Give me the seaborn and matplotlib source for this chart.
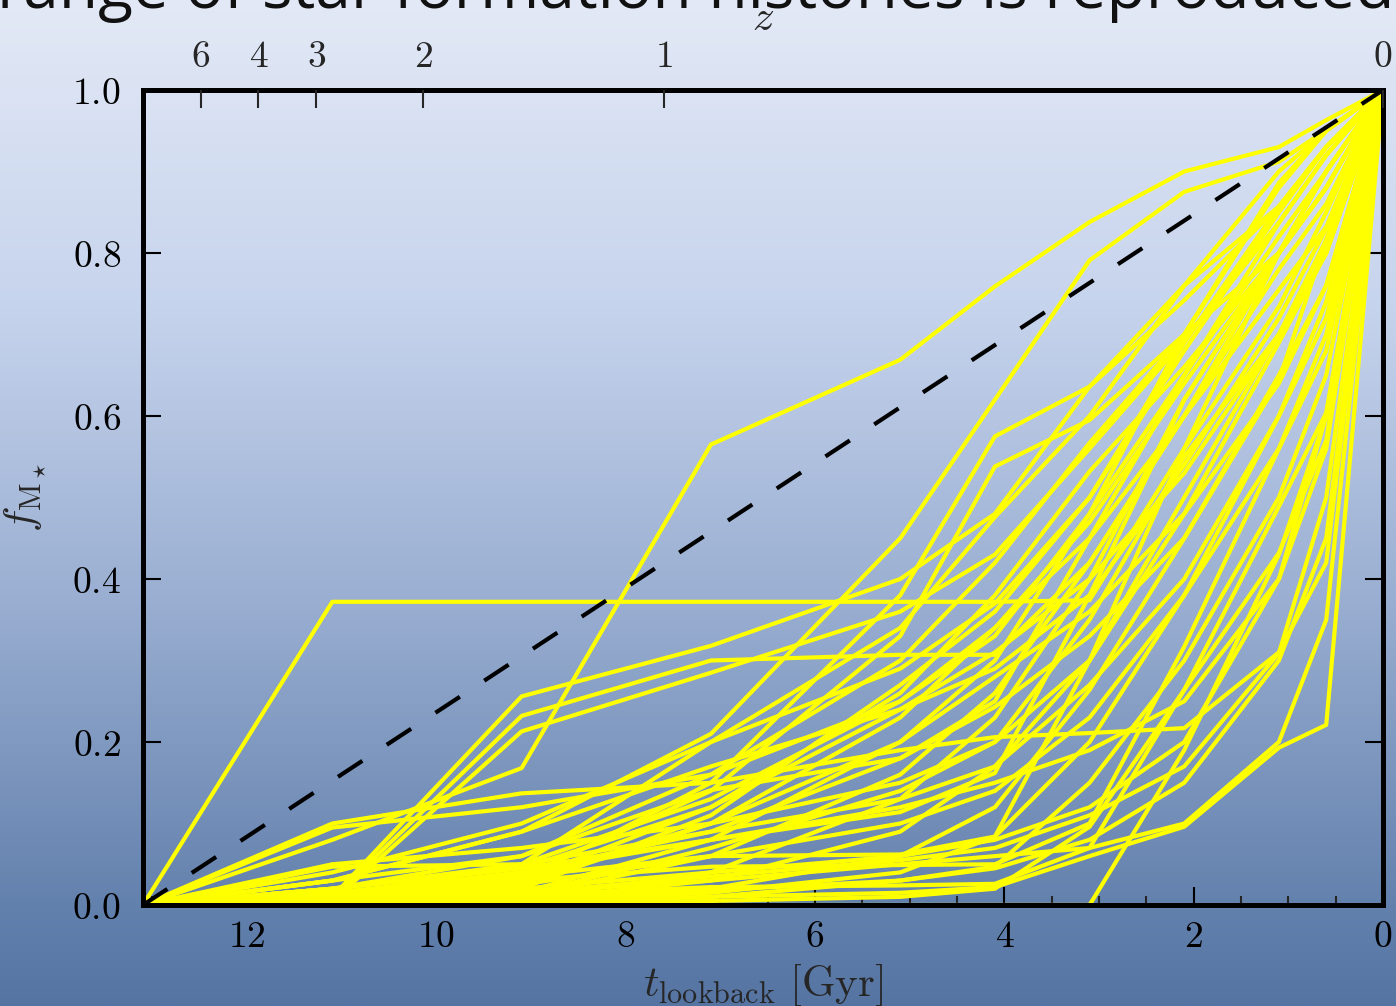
import numpy as np
import pandas as pd
import matplotlib
matplotlib.use("Agg")
import matplotlib.pyplot as plt
import seaborn as sns
from matplotlib.ticker import MultipleLocator, FixedLocator, FuncFormatter

# ---------------- data ----------------
t_nodes = [13.1, 11.1, 9.1, 7.1, 5.1, 4.1, 3.1, 2.1, 1.1, 0.6, 0.0]

tracks_early = [
    [0, .080, .168, .565, .669, .759, .838, .900, .930, .963, 1],
    [0, .372, .372, .372, .372, .372, .374, .560, .800, .900, 1],
    [0, .030, .090, .210, .450, .620, .791, .875, .912, .951, 1],
    [0, .010, .256, .318, .400, .480, .636, .742, .857, .930, 1],
    [0, .008, .232, .300, .307, .307, .420, .600, .800, .900, 1],
    [0, .005, .213, .285, .360, .430, .560, .693, .837, .920, 1],
    [0, .100, .137, .150, .190, .206, .211, .217, .310, .420, 1],
    [0, .095, .120, .160, .250, .330, .480, .650, .820, .900, 1],
    [0, .047, .050, .130, .250, .340, .470, .640, .800, .900, 1],
    [0, .050, .070, .100, .150, .200, .300, .480, .690, .800, 1],
    [0, .040, .100, .200, .290, .370, .500, .680, .850, .930, 1],
    [0, .030, .090, .170, .240, .290, .380, .540, .720, .830, 1],
]

tracks_intermediate = [
    [0, .030, .060, .160, .300, .420, .567, .700, .886, .950, 1],
    [0, .020, .045, .120, .260, .380, .532, .660, .800, .880, 1],
    [0, .010, .030, .100, .230, .340, .450, .600, .755, .832, 1],
    [0, .015, .040, .090, .180, .243, .330, .450, .644, .816, 1],
    [0, .020, .060, .141, .180, .250, .450, .650, .837, .920, 1],
    [0, .010, .050, .200, .340, .476, .600, .760, .900, .950, 1],
    [0, .005, .030, .150, .380, .575, .636, .760, .857, .930, 1],
    [0, .006, .020, .110, .270, .360, .500, .690, .857, .930, 1],
    [0, .004, .015, .080, .200, .300, .480, .700, .880, .950, 1],
    [0, .010, .035, .140, .330, .538, .595, .700, .800, .880, 1],
    [0, .006, .030, .120, .240, .310, .400, .530, .700, .800, 1],
    [0, .004, .025, .100, .200, .280, .360, .480, .640, .760, 1],
    [0, .020, .050, .090, .130, .170, .270, .400, .600, .740, 1],
    [0, .015, .035, .060, .100, .140, .230, .380, .560, .680, 1],
    [0, .012, .040, .080, .114, .162, .380, .620, .800, .880, 1],
    [0, .003, .012, .070, .140, .200, .350, .550, .700, .816, 1],
    [0, .002, .010, .060, .160, .260, .420, .600, .780, .860, 1],
    [0, .001, .008, .040, .130, .230, .400, .620, .800, .880, 1],
]

tracks_late = [
    [0, .002, .004, .010, .015, .022, .060, .096, .193, .221, 1],
    [0, .000, .000, .000, .000, .000, .000, .190, .430, .600, 1],
    [0, .005, .012, .022, .024, .026, .070, .264, .489, .604, 1],
    [0, .010, .030, .047, .049, .050, .100, .317, .560, .700, 1],
    [0, .008, .025, .060, .062, .084, .300, .560, .734, .850, 1],
    [0, .002, .006, .030, .090, .170, .300, .500, .700, .800, 1],
    [0, .001, .004, .020, .060, .120, .264, .450, .650, .760, 1],
    [0, .002, .005, .015, .040, .084, .200, .380, .600, .720, 1],
    [0, .001, .003, .010, .030, .047, .150, .300, .500, .650, 1],
    [0, .000, .002, .005, .010, .020, .096, .264, .432, .570, 1],
    [0, .010, .020, .040, .060, .080, .120, .200, .400, .600, 1],
    [0, .005, .015, .035, .055, .070, .110, .170, .309, .500, 1],
    [0, .003, .008, .018, .030, .045, .080, .150, .300, .450, 1],
    [0, .020, .045, .080, .120, .150, .190, .250, .400, .560, 1],
    [0, .008, .015, .030, .050, .060, .070, .100, .200, .350, 1],
]

diag_t = [13.1, 0.0]
diag_f = [0.0, 1.0]

z_labels = ["6", "4", "3", "2", "1", "0"]
z_lookback = [12.49, 11.88, 11.27, 10.14, 7.60, 0.0]

x_major = [12, 10, 8, 6, 4, 2, 0]
y_major = [0.0, 0.2, 0.4, 0.6, 0.8, 1.0]

title_text = "range of star formation histories is reproduced"

# --------------- build table ---------------
rows = []
all_tracks = tracks_early + tracks_intermediate + tracks_late
for k, tr in enumerate(all_tracks):
    for t, f in zip(t_nodes, tr):
        rows.append({"track": k, "t": t, "f": f})
df = pd.DataFrame(rows)

# --------------- style ---------------
sns.set_style("ticks")
plt.rcParams["mathtext.fontset"] = "cm"
plt.rcParams["font.family"] = ["DejaVu Serif"]

W, H = 1396, 1006
fig = plt.figure(figsize=(W / 100, H / 100), dpi=100)

# background gradient
bg = fig.add_axes([0, 0, 1, 1], zorder=-10)
stops_y = [0.0, 0.3, 0.6, 0.9, 1.0]
stops_c = np.array([[227, 233, 246], [199, 212, 237], [153, 174, 209],
                    [99, 129, 173], [85, 116, 162]]) / 255.0
yy = np.linspace(0, 1, H)
grad = np.stack([np.interp(yy, stops_y, stops_c[:, i]) for i in range(3)], axis=-1)
bg.imshow(grad[:, None, :], aspect="auto", extent=[0, 1, 1, 0])
bg.set_xlim(0, 1); bg.set_ylim(1, 0)
bg.axis("off")

ax = fig.add_axes([143 / W, 1 - 905 / H, 1240 / W, 815 / H])
ax.set_facecolor("none")

sns.lineplot(data=df, x="t", y="f", units="track", estimator=None, sort=False,
             color="#ffff00", lw=3.0, ax=ax, legend=False)
ax.plot(diag_t, diag_f, color="black", lw=3.0, dashes=(7, 7), zorder=5)

ax.set_xlim(13.1, 0)
ax.set_ylim(0, 1)

fs = 27
fl = 31
cmfmt1 = FuncFormatter(lambda v, p: r"$%.1f$" % v)
cmfmt0 = FuncFormatter(lambda v, p: r"$%d$" % round(v))
ax.xaxis.set_major_locator(FixedLocator(x_major))
ax.xaxis.set_minor_locator(MultipleLocator(0.5))
ax.xaxis.set_major_formatter(cmfmt0)
ax.yaxis.set_major_locator(FixedLocator(y_major))
ax.yaxis.set_major_formatter(cmfmt1)
ax.tick_params(axis="both", which="major", direction="in", length=13, width=1.5,
               labelsize=fs, colors="black")
ax.tick_params(axis="x", which="minor", direction="in", length=6.5, width=1.5)
ax.tick_params(axis="y", which="both", right=True, left=True, pad=16)
ax.tick_params(axis="x", which="both", top=False, bottom=True, pad=10)
for s in ax.spines.values():
    s.set_linewidth(3.6)
    s.set_color("black")
    s.set_zorder(10)

ax.set_xlabel(r"$t_{\rm lookback}\ [{\rm Gyr}]$", fontsize=fl)
ax.xaxis.set_label_coords(0.5, -0.071)
ax.set_ylabel(r"$f_{\rm M_\star}$", fontsize=fl)
ax.yaxis.set_label_coords(-0.076, 0.5)

# top redshift axis
axt = ax.twiny()
axt.set_xlim(ax.get_xlim())
axt.xaxis.set_major_locator(FixedLocator(z_lookback))
axt.set_xticklabels([r"$%s$" % s for s in z_labels])
axt.tick_params(axis="x", which="major", direction="in", length=13, width=1.5,
                labelsize=fs, pad=11)
axt.xaxis.set_minor_locator(FixedLocator([]))
axt.set_xlabel(r"$z$", fontsize=fl)
axt.xaxis.set_label_coords(0.5, 1.0735)
for s in axt.spines.values():
    s.set_visible(False)

# partially visible heading at the top
ttl = fig.text(-3 / W, 1 - 8 / H, title_text, family="Open Sans", fontsize=40,
               va="baseline", ha="left", color="#111111")
fig.canvas.draw()
bb = ttl.get_window_extent()
target = 1395.0
ttl.set_fontsize(40 * target / bb.width)

fig.savefig("out.png", dpi=100)
